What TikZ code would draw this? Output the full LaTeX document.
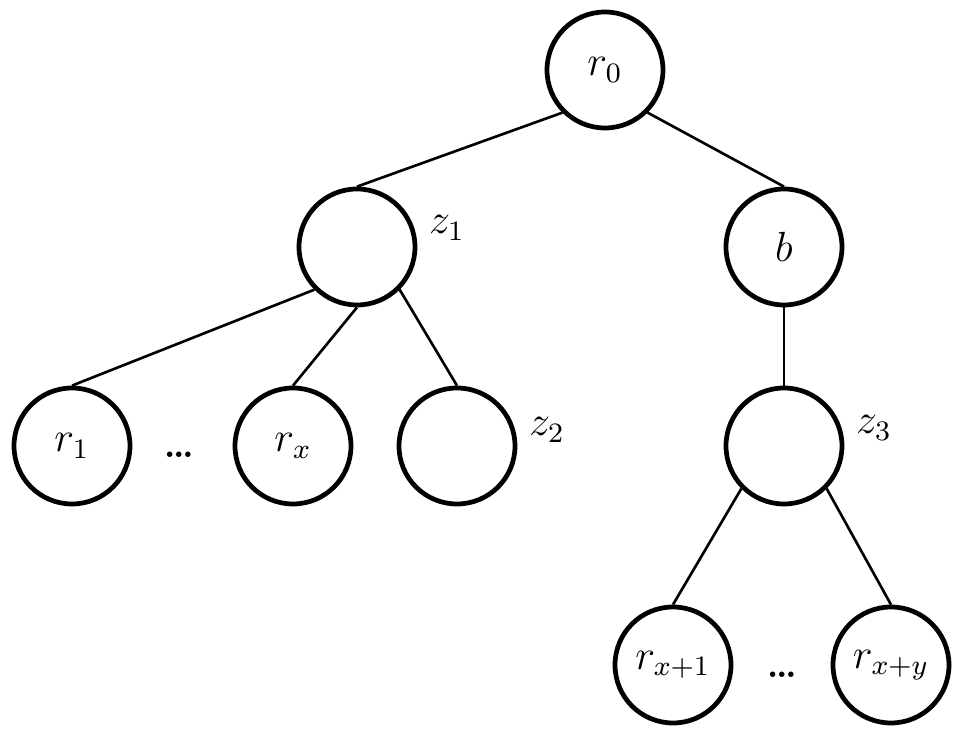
\documentclass[tikz,border=0pt]{standalone}
\usepackage{amsmath}
\usetikzlibrary{positioning}

\begin{document}
\begin{tikzpicture}[font=\large,
  v/.style={draw,circle,minimum size=1.16cm,inner sep=0pt,line width=1.35pt},
  e/.style={line width=0.75pt},
  lab/.style={inner sep=0pt}]
\useasboundingbox (0,0) rectangle (9.75,-7.40);
% tree vertices
\node[v] (r0)  at (6.05,-0.70) {$r_0$};
\node[v] (z1)  at (3.57,-2.47) {};
\node[v] (b)   at (7.84,-2.47) {$b$};
\node[v] (r1)  at (0.72,-4.46) {$r_1$};
\node[v] (rx)  at (2.93,-4.46) {$r_x$};
\node[v] (z2)  at (4.57,-4.46) {};
\node[v] (z3)  at (7.84,-4.46) {};
\node[v] (rx1) at (6.73,-6.65) {$r_{x+1}$};
\node[v] (rxy) at (8.91,-6.65) {$r_{x+y}$};
% names of the empty vertices
\node[lab] (z1l) at (4.47,-2.28) {$z_1$};
\node[lab] (z2l) at (5.47,-4.30) {$z_2$};
\node[lab] (z3l) at (8.74,-4.28) {$z_3$};
\node[lab,font=\normalsize\bfseries] (d1) at (1.79,-4.55) {\dots};
\node[lab,font=\normalsize\bfseries] (d2) at (7.82,-6.75) {\dots};
% edges
\draw[e] (r0.south west) -- (z1.north);
\draw[e] (r0.south east) -- (b.north);
\draw[e] (z1.south west) -- (r1.north);
\draw[e] (z1.south) -- (rx.north);
\draw[e] (z1.south east) -- (z2.north);
\draw[e] (b.south) -- (z3.north);
\draw[e] (z3.south west) -- (rx1.north);
\draw[e] (z3.south east) -- (rxy.north);
\end{tikzpicture}
\end{document}
